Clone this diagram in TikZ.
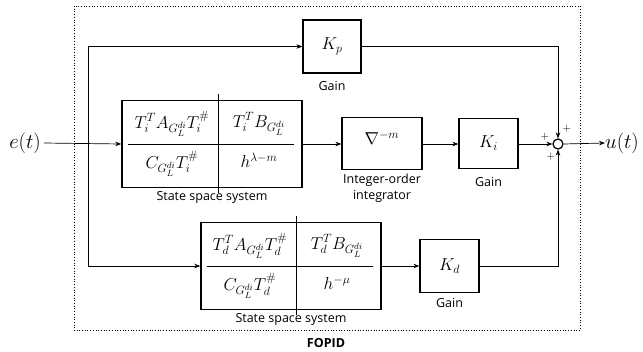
\documentclass[tikz,border=0pt]{standalone}
\usepackage[no-math]{fontspec}
\usepackage{amsmath}
\newfontfamily\lblfont{Open Sans}
\usetikzlibrary{arrows.meta}
\begin{document}
\begin{tikzpicture}[x=1pt,y=-1pt,
  arr/.style={-{Stealth[length=6pt,width=4.5pt]},line width=0.7pt},
  ln/.style={line width=0.7pt},
  blk/.style={draw,line width=1.2pt,inner sep=0pt},
  ssbox/.style={draw,line width=1.5pt,inner sep=0pt,minimum width=180pt,minimum height=87pt},
  lbl/.style={font=\lblfont\fontsize{12.5}{14}\selectfont,inner sep=0pt},
  bm/.style={font=\fontsize{17.5}{20}\selectfont,inner sep=0pt},
  sig/.style={font=\fontsize{21}{24}\selectfont,inner sep=0pt},
  pl/.style={font=\fontsize{11}{12}\selectfont,inner sep=0pt}]
\useasboundingbox (0,0) rectangle (643,351);
% dashed frame
\draw[dotted,line width=0.7pt] (74,6) rectangle (580,330);
\node[font=\lblfont\bfseries\fontsize{12.5}{14}\selectfont,inner sep=0pt] (fopid) at (326,343) {FOPID};
% signals
\node[sig] (et) at (25,143) {$e(t)$};
\node[sig,anchor=west] (ut) at (605,143) {$u(t)$};
% blocks
\node[blk,minimum width=58pt,minimum height=53pt] (kp) at (332,46.5) {};
\node[bm] (kptxt) at (332,46) {$K_p$};
\node[lbl] (kpl) at (332,86) {Gain};
\node[ssbox] (ss1) at (212,144) {};
\node[lbl] (ss1l) at (212,197) {State space system};
\node[blk,minimum width=80pt,minimum height=52pt] (integ) at (382,143.5) {};
\node[bm] (integtxt) at (382,138) {$\nabla^{-m}$};
\node[lbl] (intl1) at (382,180) {Integer-order};
\node[lbl] (intl2) at (382,196) {integrator};
\node[blk,minimum width=59pt,minimum height=50pt] (ki) at (488.5,143.5) {};
\node[bm] (kitxt) at (488.5,143) {$K_i$};
\node[lbl] (kil) at (488.5,182) {Gain};
\node[circle,draw,line width=1.2pt,minimum size=10pt,inner sep=0pt] (sum) at (558,144) {};
\node[ssbox] (ss2) at (291,266) {};
\node[lbl] (ss2l) at (291,319) {State space system};
\node[blk,minimum width=59pt,minimum height=53pt] (kd) at (449.5,266) {};
\node[bm] (kdtxt) at (449.5,266) {$K_d$};
\node[lbl] (kdl) at (449.5,303) {Gain};
% inner tables
\draw[ln] ([xshift=7pt]ss1.west) -- ([xshift=-9pt]ss1.east);
\draw[ln] ([xshift=-84pt,yshift=6pt]ss1.north east) -- ([xshift=-84pt,yshift=-5pt]ss1.south east);
\draw[ln] ([xshift=7pt]ss2.west) -- ([xshift=-9pt]ss2.east);
\draw[ln] ([xshift=-85pt,yshift=6pt]ss2.north east) -- ([xshift=-85pt,yshift=-5pt]ss2.south east);
\node[bm] (a1) at (172,124) {$T_i^TA_{G_L^{di}}T_i^{\#}$};
\node[bm] (b1) at (259,124) {$T_i^TB_{G_L^{di}}$};
\node[bm] (c1) at (172,164) {$C_{G_L^{di}}T_i^{\#}$};
\node[bm] (d1) at (259,160) {$h^{\lambda-m}$};
\node[bm] (a2) at (250,246) {$T_d^TA_{G_L^{di}}T_d^{\#}$};
\node[bm] (b2) at (337,246) {$T_d^TB_{G_L^{di}}$};
\node[bm] (c2) at (250,286) {$C_{G_L^{di}}T_d^{\#}$};
\node[bm] (d2) at (337,283) {$h^{-\mu}$};
% connectors
\coordinate (br) at (88,144);
\draw[arr] ([xshift=3pt]et.east) -- (ss1.west);
\draw[arr] (br) |- (kp.west);
\draw[arr] (br) |- (ss2.west);
\draw[arr] (ss1.east) -- (integ.west |- ss1.east);
\draw[arr] (integ.east |- ss1.east) -- (ki.west |- ss1.east);
\draw[arr] (ki.east |- sum.west) -- (sum.west);
\draw[arr] (kp.east) -| (sum.north);
\draw[arr] (kd.east) -| (sum.south);
\draw[arr] (ss2.east) -- (kd.west);
\draw[arr] (sum.east) -- (ut.west);
% signs
\node[pl] (p1) at (545,137) {$+$};
\node[pl] (p2) at (567,129) {$+$};
\node[pl] (p3) at (551,157) {$+$};
\end{tikzpicture}
\end{document}
